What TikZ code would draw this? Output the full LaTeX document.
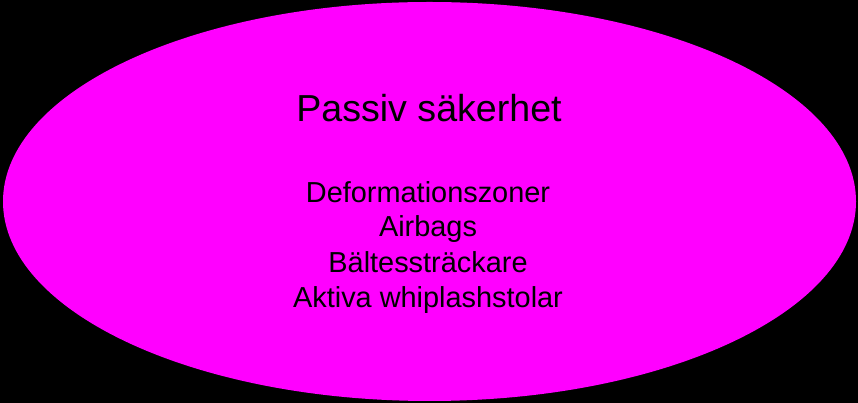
\documentclass[tikz,border=0pt]{standalone}
\usepackage{fontspec}
\setmainfont{Liberation Sans}
\usetikzlibrary{shapes.geometric}
\definecolor{magentafill}{RGB}{255,0,255}
\begin{document}
\begin{tikzpicture}[x=1pt,y=1pt,
  txt/.style={anchor=base,inner sep=0pt,text=black}]
\fill[black] (0,0) rectangle (858,403);
\useasboundingbox (0,0) rectangle (858,403);
\node[ellipse,fill=magentafill,minimum width=853pt,minimum height=399pt,inner sep=0pt] (e) at (429.5,201.5) {};
\node[txt,font=\fontsize{37.6}{44}\selectfont] (t) at (429,281) {Passiv säkerhet};
\node[txt,font=\fontsize{28.9}{35}\selectfont] (l1) at (428,200) {Deformationszoner};
\node[txt,font=\fontsize{28.9}{35}\selectfont] (l2) at (428,166) {Airbags};
\node[txt,font=\fontsize{28.9}{35}\selectfont] (l3) at (428,130) {Bältessträckare};
\node[txt,font=\fontsize{28.9}{35}\selectfont] (l4) at (428,95) {Aktiva whiplashstolar};
\end{tikzpicture}
\end{document}
